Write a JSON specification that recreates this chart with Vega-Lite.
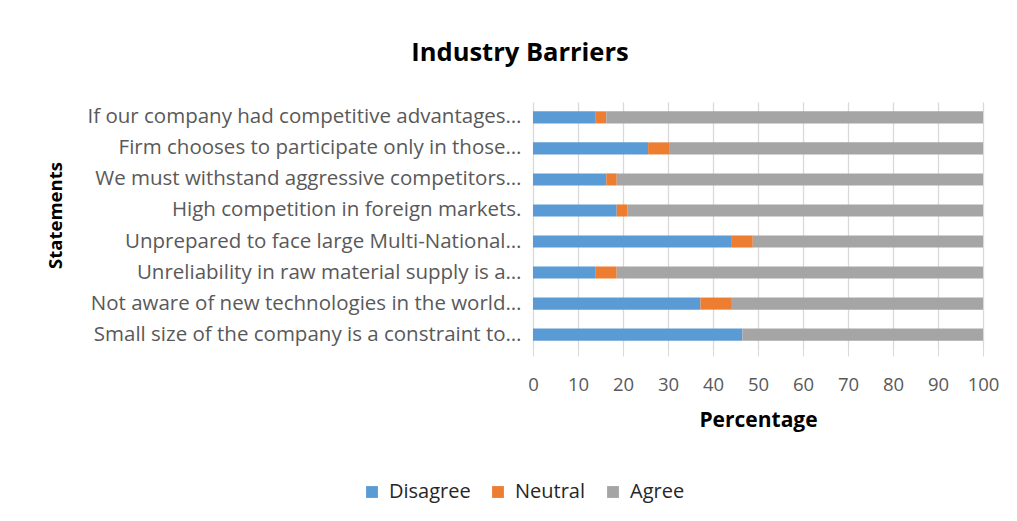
{
  "$schema": "https://vega.github.io/schema/vega-lite/v6.json",
  "autosize": {"type": "none"},
  "width": 450,
  "height": 248,
  "padding": {"left": 533, "top": 102, "right": 34, "bottom": 171},
  "background": "white",
  "title": {
    "text": "Industry Barriers",
    "font": "Open Sans",
    "fontSize": 25.5,
    "fontWeight": "bold",
    "color": "#000000",
    "dx": -238,
    "offset": 36
  },
  "data": {
    "values": [
      {"statement": "If our company had competitive advantages…", "response": "Disagree", "k": 1, "pct": 13.95},
      {"statement": "If our company had competitive advantages…", "response": "Neutral", "k": 2, "pct": 2.33},
      {"statement": "If our company had competitive advantages…", "response": "Agree", "k": 3, "pct": 83.72},
      {"statement": "Firm chooses to participate only in those…", "response": "Disagree", "k": 1, "pct": 25.58},
      {"statement": "Firm chooses to participate only in those…", "response": "Neutral", "k": 2, "pct": 4.65},
      {"statement": "Firm chooses to participate only in those…", "response": "Agree", "k": 3, "pct": 69.77},
      {"statement": "We must withstand aggressive competitors…", "response": "Disagree", "k": 1, "pct": 16.28},
      {"statement": "We must withstand aggressive competitors…", "response": "Neutral", "k": 2, "pct": 2.33},
      {"statement": "We must withstand aggressive competitors…", "response": "Agree", "k": 3, "pct": 81.39},
      {"statement": "High competition in foreign markets.  ", "response": "Disagree", "k": 1, "pct": 18.6},
      {"statement": "High competition in foreign markets.  ", "response": "Neutral", "k": 2, "pct": 2.33},
      {"statement": "High competition in foreign markets.  ", "response": "Agree", "k": 3, "pct": 79.07},
      {"statement": "Unprepared to face large Multi-National…", "response": "Disagree", "k": 1, "pct": 44.19},
      {"statement": "Unprepared to face large Multi-National…", "response": "Neutral", "k": 2, "pct": 4.65},
      {"statement": "Unprepared to face large Multi-National…", "response": "Agree", "k": 3, "pct": 51.16},
      {"statement": "Unreliability in raw material supply is a…", "response": "Disagree", "k": 1, "pct": 13.95},
      {"statement": "Unreliability in raw material supply is a…", "response": "Neutral", "k": 2, "pct": 4.65},
      {"statement": "Unreliability in raw material supply is a…", "response": "Agree", "k": 3, "pct": 81.4},
      {"statement": "Not aware of new technologies in the world…", "response": "Disagree", "k": 1, "pct": 37.21},
      {"statement": "Not aware of new technologies in the world…", "response": "Neutral", "k": 2, "pct": 6.98},
      {"statement": "Not aware of new technologies in the world…", "response": "Agree", "k": 3, "pct": 55.81},
      {"statement": "Small size of the company is a constraint to…", "response": "Disagree", "k": 1, "pct": 46.51},
      {"statement": "Small size of the company is a constraint to…", "response": "Neutral", "k": 2, "pct": 0},
      {"statement": "Small size of the company is a constraint to…", "response": "Agree", "k": 3, "pct": 53.49}
    ]
  },
  "mark": {"type": "bar"},
  "encoding": {
    "y": {
      "field": "statement",
      "type": "nominal",
      "sort": null,
      "scale": {"paddingInner": 0.61, "paddingOuter": 0.3},
      "axis": {
        "title": "Statements",
        "titleFont": "Open Sans",
        "titleFontSize": 18.5,
        "titleFontWeight": "bold",
        "titleColor": "#000000",
        "titleX": -468,
        "titleY": 113,
        "labelFont": "Open Sans",
        "labelFontSize": 20.5,
        "labelColor": "#595959",
        "labelLimit": 600,
        "labelPadding": 12,
        "ticks": false,
        "domain": false,
        "grid": false
      }
    },
    "x": {
      "field": "pct",
      "type": "quantitative",
      "stack": "zero",
      "scale": {"domain": [0, 100], "nice": false},
      "axis": {
        "title": "Percentage",
        "values": [0, 10, 20, 30, 40, 50, 60, 70, 80, 90, 100],
        "titleFont": "Open Sans",
        "titleFontSize": 21,
        "titleFontWeight": "bold",
        "titleColor": "#000000",
        "titlePadding": 16,
        "labelFont": "Open Sans",
        "labelFontSize": 18.5,
        "labelColor": "#595959",
        "labelPadding": 19,
        "labelFlush": false,
        "labelOverlap": false,
        "grid": true,
        "gridColor": "#d9d9d9",
        "gridWidth": 1.3,
        "domain": false,
        "ticks": true,
        "tickColor": "#d9d9d9",
        "tickSize": 6
      }
    },
    "color": {
      "field": "response",
      "type": "nominal",
      "sort": ["Disagree", "Neutral", "Agree"],
      "scale": {"domain": ["Disagree", "Neutral", "Agree"], "range": ["#5b9bd5", "#ed7d31", "#a5a5a5"]},
      "legend": {
        "title": null,
        "orient": "none",
        "legendX": -171,
        "legendY": 380,
        "direction": "horizontal",
        "columns": 3,
        "symbolType": "square",
        "symbolSize": 140,
        "symbolStrokeWidth": 0,
        "labelFont": "Open Sans",
        "labelFontSize": 20,
        "labelColor": "#262626",
        "labelOffset": 7,
        "columnPadding": 17
      }
    },
    "order": {"field": "k", "type": "quantitative", "sort": "ascending"}
  },
  "config": {"view": {"stroke": null}}
}
